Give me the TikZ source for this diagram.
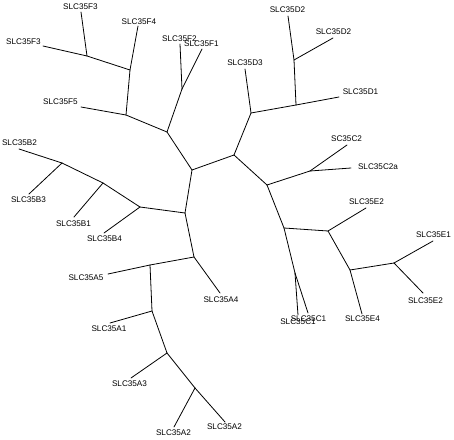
\documentclass[tikz,border=0pt]{standalone}
\usepackage{fontspec}
\setmainfont{Liberation Sans}
\usetikzlibrary{positioning}

\begin{document}
\begin{tikzpicture}[x=1bp, y=-1bp,
  every node/.style={font=\fontsize{8.2}{9}\selectfont, inner sep=0pt},
  branch/.style={black, line width=0.8bp, line cap=round}]
  \useasboundingbox (0,0) rectangle (454,440);

  % innere Knoten
  \foreach \n/\x/\y in {n0/192/170, n1/185/213, n2/194/257,
      nf/167/132, nf12/182/89, nf5/126/115, nf4/130/70, nf3/87/56,
      nd/234/155, nd3/251/113, nd1/296/105, nd2/294/60,
      nc/267/185, nc2/310/171, ne/284/228, ne2/328/231, ne4/350/270,
      ne1/394/263, nc1/295/273,
      nb/140/207, nb1/103/183, nb2/62/163,
      na5/150/265, na1/152/311, na3/167/353, na2/195/388} {
    \coordinate (\n) at (\x,\y);
  }

  % Blattenden
  \foreach \n/\x/\y in {tf3a/81/12, tf3b/43/46, tf4/138/26, tf2/180/44,
      tf1/202/49, tf5/81/107,
      td2a/288/16, td2b/333/38, td3/245/69, td1/339/97,
      tc2/347/145, tc2a/351/168,
      te2a/366/208, te1/433/241, te2b/423/293, te4/362/314,
      tc1a/298/315, tc1b/308/313,
      tb2/19/149, tb3/29/194, tb1/74/217, tb4/104/233,
      ta5/108/274, ta4/220/293, ta1/110/323, ta3/131/378,
      ta2a/174/427, ta2b/225/422} {
    \coordinate (\n) at (\x,\y);
  }

  % Beschriftungen
  \foreach \n/\x/\y/\t in {f3a/80.5/7/SLC35F3, f3b/23.5/42/SLC35F3,
      f4/139/22/SLC35F4, f2/179.5/39/SLC35F2, f1/201.5/44/SLC35F1,
      f5/60.5/102/SLC35F5,
      d2a/287.5/10/SLC35D2, d2b/333.5/32/SLC35D2, d3/245/63/SLC35D3,
      d1/360.5/92/SLC35D1,
      c2/346.5/139/SC35C2, c2a/378/167/SLC35C2a,
      e2a/366.5/202/SLC35E2, e1/433.5/235/SLC35E1,
      e2b/425.5/301/SLC35E2, e4/362.5/319/SLC35E4,
      c1a/308.5/319/SLC35C1, c1b/298/322/SLC35C1,
      b2/19.5/143/SLC35B2, b3/28.5/200/SLC35B3, b1/73.5/224/SLC35B1,
      b4/104.5/239/SLC35B4,
      a5/86/278/SLC35A5, a4/221/300/SLC35A4, a1/109/329/SLC35A1,
      a3/129.5/384/SLC35A3, a2a/173.5/433/SLC35A2, a2b/224.5/427/SLC35A2} {
    \node (l\n) at (\x,\y) {\t};
  }

  % Kanten
  \foreach \a/\b in {n0/nf, n0/nd, n0/n1, n1/nb, n1/n2,
      nf/nf12, nf12/tf2, nf12/tf1, nf/nf5, nf5/tf5, nf5/nf4, nf4/tf4,
      nf4/nf3, nf3/tf3a, nf3/tf3b,
      nd/nd3, nd/nc, nd3/td3, nd3/nd1, nd1/td1, nd1/nd2, nd2/td2a, nd2/td2b,
      nc/nc2, nc2/tc2, nc2/tc2a, nc/ne, ne/ne2, ne2/te2a, ne2/ne4,
      ne4/te4, ne4/ne1, ne1/te1, ne1/te2b, ne/nc1, nc1/tc1a, nc1/tc1b,
      nb/tb4, nb/nb1, nb1/tb1, nb1/nb2, nb2/tb3, nb2/tb2,
      n2/ta4, n2/na5, na5/ta5, na5/na1, na1/ta1, na1/na3, na3/ta3,
      na3/na2, na2/ta2a, na2/ta2b} {
    \draw[branch] (\a) -- (\b);
  }
\end{tikzpicture}
\end{document}
